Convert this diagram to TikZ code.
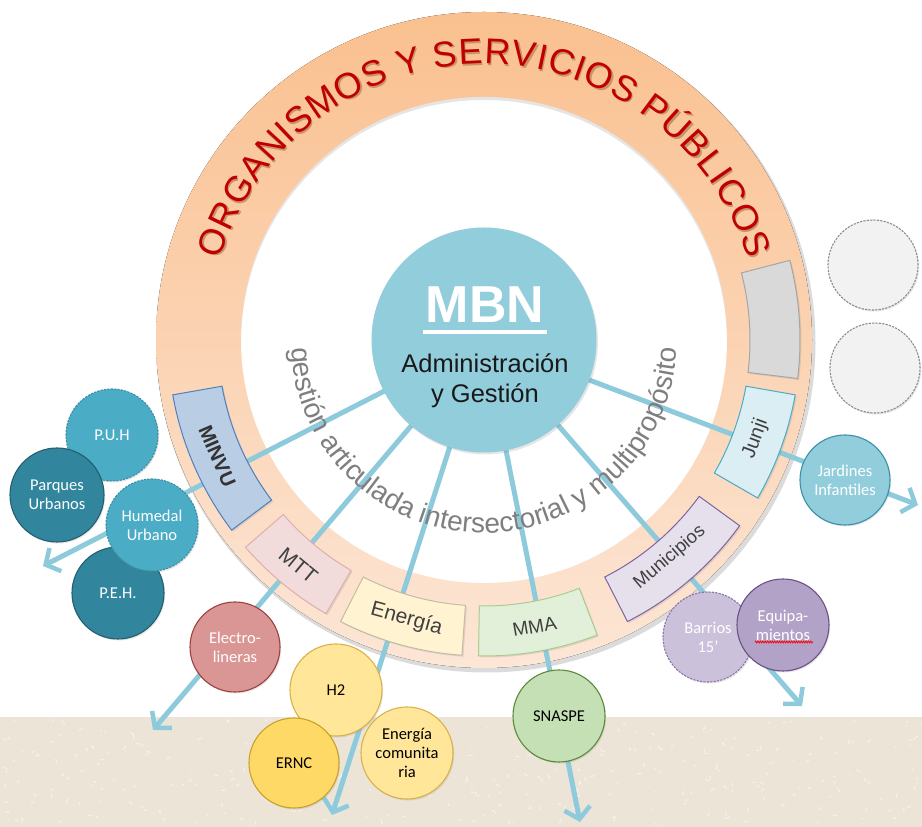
\documentclass[tikz,border=0pt]{standalone}
\usepackage{fontspec}
\setmainfont{Liberation Sans}
\newfontfamily\calfont{Carlito}
\usetikzlibrary{arrows.meta,shadows,decorations.text,decorations.pathmorphing}
\definecolor{ringtop}{HTML}{FAC08F}
\definecolor{ringbot}{HTML}{FCE6D6}
\definecolor{titlered}{HTML}{C00000}
\definecolor{titleshadow}{HTML}{C9926A}
\definecolor{txtgray}{HTML}{7F7F7F}
\definecolor{labgray}{HTML}{404040}
\definecolor{mbnblue}{HTML}{92CDDC}
\definecolor{linecol}{HTML}{8DCADB}
\definecolor{bandcol}{HTML}{EDE4D8}
\definecolor{minvuf}{HTML}{B9CDE5}\definecolor{minvud}{HTML}{4F81BD}
\definecolor{mttf}{HTML}{F2DCDB}\definecolor{mttd}{HTML}{E0AEAD}
\definecolor{enef}{HTML}{FFF3D1}\definecolor{ened}{HTML}{C4BCA4}
\definecolor{mmaf}{HTML}{E3F0D9}\definecolor{mmad}{HTML}{A9CC90}
\definecolor{munf}{HTML}{E5E0EC}\definecolor{mund}{HTML}{8064A2}
\definecolor{junf}{HTML}{DBEEF4}\definecolor{jund}{HTML}{4BACC6}
\definecolor{grayf}{HTML}{D9D9D9}\definecolor{grayd}{HTML}{A6A6A6}
\definecolor{tealA}{HTML}{4BACC6}\definecolor{tealAd}{HTML}{3B8FA6}
\definecolor{tealB}{HTML}{31859C}\definecolor{tealBd}{HTML}{245F70}
\definecolor{elecf}{HTML}{D99694}\definecolor{elecd}{HTML}{A0403E}
\definecolor{yelA}{HTML}{FFE699}\definecolor{yelAd}{HTML}{D9B24A}
\definecolor{yelB}{HTML}{FFD966}\definecolor{yelBd}{HTML}{C9A227}
\definecolor{grnf}{HTML}{C5E0B4}\definecolor{grnd}{HTML}{5A8A3A}
\definecolor{purA}{HTML}{CCC1DA}\definecolor{purAd}{HTML}{8B74AC}
\definecolor{purB}{HTML}{B3A2C7}\definecolor{purBd}{HTML}{6A5287}
\definecolor{jarf}{HTML}{92CDDC}\definecolor{jard}{HTML}{3990A8}
\definecolor{ghostf}{HTML}{F2F2F2}\definecolor{ghostd}{HTML}{8C8C8C}
\pgfdeclarelayer{back}
\pgfdeclarelayer{lines}
\pgfsetlayers{back,lines,main}
\newcommand\secbox[4]{\filldraw[sector, fill=#3, draw=#4] (#1:266) arc (#1:#2:266) -- (#2:316) arc (#2:#1:316) -- cycle;}
\begin{document}
\begin{tikzpicture}[x=1pt,y=1pt,
  bubble/.style={circle, minimum size=92pt, inner sep=0pt, align=center, line width=1.1pt,
    font=\calfont\fontsize{16.5}{19}\selectfont,
    drop shadow={opacity=.2, shadow xshift=1.2pt, shadow yshift=-1.5pt}},
  dashring/.style={dash pattern=on 2.2pt off 1.2pt},
  sector/.style={line width=1pt, drop shadow={opacity=.2, shadow xshift=1.5pt, shadow yshift=-1.5pt}},
  boxlabel/.style={inner sep=0pt, text=labgray},
  conn/.style={draw=linecol, line width=5pt, -{Straight Barb[length=11pt,width=26pt,line width=4.5pt]}}
]
\useasboundingbox (0,0) rectangle (922,827);
% ---------------- background: ground band and ring
\begin{pgfonlayer}{back}
  \fill[bandcol] (0,0) rectangle (922,110);
  \pgfmathsetseed{42}
  \foreach \i in {1,...,320} {
    \pgfmathsetmacro\xx{rnd*922}
    \pgfmathsetmacro\yy{2+rnd*104}
    \pgfmathsetmacro\aa{rnd*180}
    \pgfmathsetmacro\ll{0.8+rnd*3.5}
    \draw[white, line width=1pt, line cap=round, opacity=.55] (\xx,\yy) -- ++(\aa:\ll);
  }
  \fill[black, opacity=.14] (486,484) circle (329.5);
  \fill[top color=ringtop, bottom color=ringbot] (484,487) circle (328);
  \fill[white] (484,487) circle (243);
  \begin{scope}
    \clip (484,487) circle (243);
    \draw[black, opacity=.10, line width=6pt] (484,484) circle (246);
  \end{scope}
\end{pgfonlayer}
% ---------------- centre
\node[circle, minimum size=225pt, inner sep=0pt, fill=mbnblue,
      drop shadow={opacity=.2, shadow xshift=1.5pt, shadow yshift=-2pt}] (mbn) at (484,487) {};
% ---------------- connector ends
\coordinate (t1) at (43,261);
\coordinate (t2) at (153,97);
\coordinate (t3) at (332,12);
\coordinate (t4) at (580,5);
\coordinate (t5) at (802,121);
\coordinate (t6) at (918,322);
\begin{pgfonlayer}{lines}
  \draw[conn] (mbn.center) -- (t1);
  \draw[conn] (mbn.center) -- (t2);
  \draw[conn] (mbn.center) -- (t3);
  \draw[conn] (mbn.center) -- (t4);
  \draw[conn] (mbn.center) -- (t5);
  \draw[conn] (mbn.center) -- (t6);
\end{pgfonlayer}
% ---------------- ring boxes and curved texts
\begin{scope}[shift={(484,487)}]
  \secbox{190}{217}{minvuf}{minvud}
  \secbox{221}{240}{mttf}{mttd}
  \secbox{243}{266}{enef}{ened}
  \secbox{269}{291}{mmaf}{mmad}
  \secbox{297}{324}{munf}{mund}
  \secbox{330}{350}{junf}{jund}
  \secbox{-7}{14.6}{grayf}{grayd}
  \node[boxlabel, rotate=-66.5, font=\bfseries\fontsize{20}{20}\selectfont, text=black!80] (minvu) at (203.5:291) {MINVU};
  \node[boxlabel, rotate=-39.5, font=\fontsize{21}{21}\selectfont] (mtt) at (230.5:292) {MTT};
  \node[boxlabel, rotate=-15.5, font=\fontsize{21}{21}\selectfont] (energia) at (254.5:290) {Energía};
  \node[boxlabel, rotate=10, font=\fontsize{19}{19}\selectfont] (mma) at (280:291) {MMA};
  \node[boxlabel, rotate=40.5, font=\fontsize{18.5}{18.5}\selectfont] (muni) at (310.5:286) {Municipios};
  \node[boxlabel, rotate=70, font=\fontsize{20}{20}\selectfont] (junji) at (340:289) {Junji};
  \begin{scope}[shift={(1.4,-1.6)}]
    \path[decorate, decoration={text along path, text color=titleshadow,
      text={|\fontsize{36}{36}\selectfont|ORGANISMOS Y SERVICIOS PÚBLICOS},
      text align={fit to path}}] (163:276) arc (163:17:276);
  \end{scope}
  \path[decorate, decoration={text along path, text color=titlered,
      text={|\fontsize{36}{36}\selectfont|ORGANISMOS Y SERVICIOS PÚBLICOS},
      text align={fit to path}}] (163:276) arc (163:17:276);
  \path[decorate, decoration={text along path, text color=txtgray,
      text={|\fontsize{28}{28}\selectfont|gestión articulada intersectorial y multipropósito},
      text align={center}}] (180:193) arc (180:360:193);
\end{scope}
% ---------------- centre texts
\node[anchor=base, inner sep=0pt, text=white, font=\bfseries\fontsize{52}{52}\selectfont] (mbntxt) at (485,504) {MBN};
\draw[white, line width=4pt] ([shift={(-3,-9)}]mbntxt.base west) -- ([shift={(3,-9)}]mbntxt.base east);
\node[anchor=base, inner sep=0pt, text=black!90, font=\fontsize{25.5}{25.5}\selectfont] (adm) at (485,454) {Administración};
\node[anchor=base, inner sep=0pt, text=black!90, font=\fontsize{25.5}{25.5}\selectfont] (ges) at (485,424) {y Gestión};
% ---------------- left cluster
\node[bubble, fill=tealA, draw=tealAd, dashring, text=white] (puh) at (112,392) {P.U.H};
\node[bubble, minimum size=94pt, fill=tealB, draw=tealBd, text=white] (parques) at (57,332) {Parques\\Urbanos};
\node[bubble, fill=tealB, draw=tealBd, text=white] (peh) at (118,234) {P.E.H.};
\node[bubble, fill=tealA, draw=tealAd, dashring, text=white] (humedal) at (152,302) {Humedal\\Urbano};
% ---------------- bottom
\node[bubble, minimum size=90pt, fill=elecf, draw=elecd, text=white] (elec) at (235,180) {Electro-\\lineras};
\node[bubble, fill=yelA, draw=yelAd, text=black] (h2) at (336,137) {H2};
\node[bubble, minimum size=90pt, fill=yelB, draw=yelBd, text=black] (ernc) at (294,64) {ERNC};
\node[bubble, fill=yelA, draw=yelAd, text=black] (ecom) at (407,74) {Energía\\comunita\\ria};
\node[bubble, fill=grnf, draw=grnd, text=black] (snaspe) at (559,111) {SNASPE};
% ---------------- right
\node[bubble, minimum size=90pt, fill=purA, draw=purAd, dashring, text=white] (barrios) at (708,190) {Barrios\\15’};
\node[bubble, fill=purB, draw=purBd, text=white] (equip) at (783,202) {Equipa-\\mientos};
\draw[red, line width=0.8pt, decorate, decoration={zigzag, segment length=2.4pt, amplitude=0.9pt}]
  ([shift={(-28,-17)}]equip.center) -- ([shift={(30,-17)}]equip.center);
\node[bubble, minimum size=90pt, fill=jarf, draw=jard, text=white] (jardines) at (845,347) {Jardines\\Infantiles};
\node[bubble, minimum size=90pt, fill=ghostf, draw=ghostd, dashring] (ghost1) at (873,562) {};
\node[bubble, minimum size=90pt, fill=ghostf, draw=ghostd, dashring] (ghost2) at (875,459) {};
\end{tikzpicture}
\end{document}
